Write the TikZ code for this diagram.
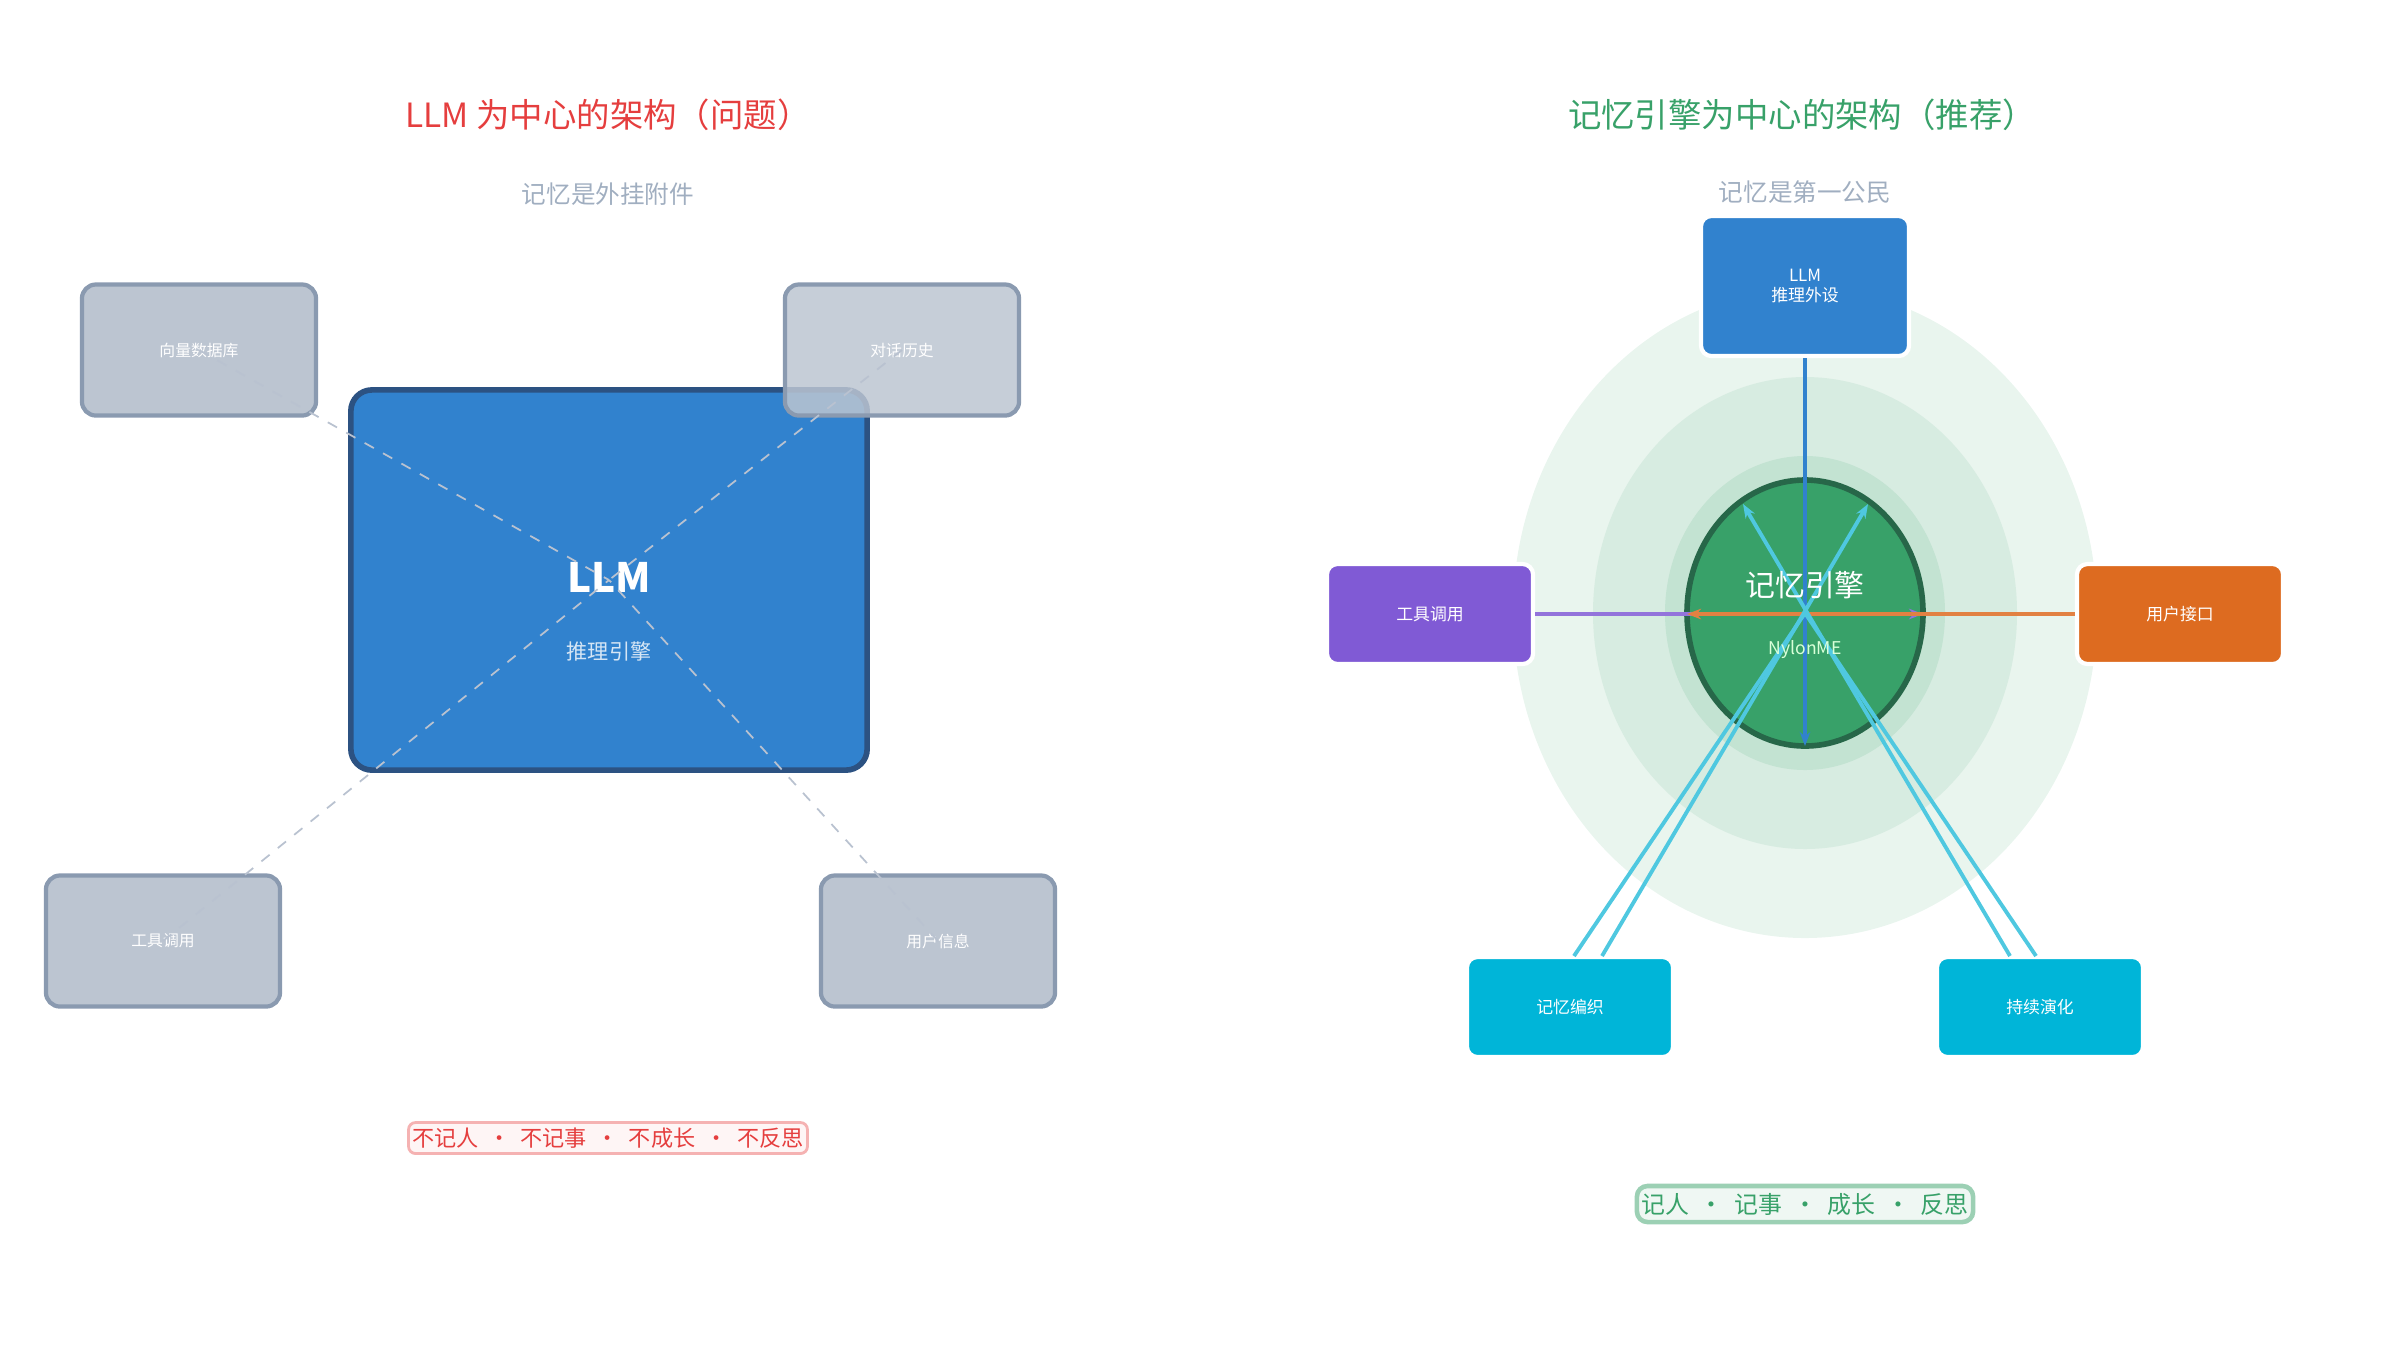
\documentclass[tikz,border=0pt]{standalone}
\usepackage{fontspec}
\setmainfont{Noto Sans CJK SC}
\usetikzlibrary{arrows.meta}
\definecolor{llmblue}{HTML}{3182CE}
\definecolor{llmedge}{HTML}{2C5282}
\definecolor{grayfill}{HTML}{BCC5D1}
\definecolor{grayedge}{HTML}{8A9AB0}
\definecolor{subgray}{HTML}{A0AEC0}
\definecolor{warnred}{HTML}{E53E3E}
\definecolor{okgreen}{HTML}{38A169}
\definecolor{darkgreen}{HTML}{276749}
\definecolor{toolpurple}{HTML}{805AD5}
\definecolor{userorange}{HTML}{DD6B20}
\definecolor{weavecyan}{HTML}{00B5D8}
\definecolor{linecyan}{HTML}{4FC8E0}
\begin{document}
\begin{tikzpicture}[x=0.01cm, y=-0.01cm,
    side/.style={rectangle, draw=grayedge, line width=1.2pt, fill=grayfill, rounded corners=4pt,
                 minimum width=2.34cm, minimum height=1.31cm, text=white, font=\fontsize{4.5}{5}\selectfont},
    sat/.style={rectangle, draw=white, line width=1.2pt, rounded corners=3pt, text=white,
                minimum width=2.06cm, minimum height=1cm, align=center, font=\fontsize{4.8}{5.5}\selectfont},
    weak/.style={dashed, draw=grayedge!60, line width=0.5pt},
    arr/.style={-{Stealth[length=4pt]}, line width=1.1pt},
    title/.style={font=\fontsize{9.5}{11}\selectfont},
    sub/.style={text=subgray, font=\fontsize{7}{8}\selectfont},
  ]
  \useasboundingbox (0,0) rectangle (2400,1350);

  % Left: LLM at the center
  \node[title, text=warnred] (ltitle) at (608,115) {LLM 为中心的架构（问题）};
  \node[sub] (lsub) at (608,194) {记忆是外挂附件};

  \node[rectangle, draw=llmedge, line width=1.6pt, fill=llmblue, rounded corners=6pt,
        minimum width=5.16cm, minimum height=3.8cm] (llm) at (609,580) {};
  \node[text=white, font=\fontsize{11.5}{13}\bfseries\selectfont] (llmname) at (609,577) {LLM};
  \node[text=white!80!llmblue, font=\fontsize{6}{7}\selectfont] (llmrole) at (609,651) {推理引擎};

  \node[side] (vec) at (199,350) {向量数据库};
  \node[side, fill opacity=0.85, text opacity=1] (hist) at (902,350) {对话历史};
  \node[side] (ltool) at (163,941) {工具调用};
  \node[side] (info) at (938,941) {用户信息};

  \foreach \n in {vec,hist,ltool,info}
    \draw[weak] (\n.center) -- (llm.center);

  \node[draw=warnred!40, fill=warnred!5, rounded corners=2pt, line width=0.8pt, text=warnred,
        minimum width=3.91cm, minimum height=0.31cm, inner sep=1pt,
        font=\fontsize{6.3}{7}\selectfont] (lneg) at (608,1138)
    {不记人 \ • \ 不记事 \ • \ 不成长 \ • \ 不反思};

  % Right: memory engine at the center
  \node[title, text=okgreen] (rtitle) at (1802,115) {记忆引擎为中心的架构（推荐）};
  \node[sub] (rsub) at (1805,192) {记忆是第一公民};

  \fill[okgreen!11] (1805,613) ellipse [x radius=292, y radius=325];
  \fill[okgreen!20] (1805,613) ellipse [x radius=212, y radius=236];
  \fill[okgreen!30] (1805,613) ellipse [x radius=140, y radius=157];
  \draw[fill=okgreen, draw=darkgreen, line width=1.6pt] (1805,613) ellipse [x radius=118, y radius=133];
  \coordinate (core) at (1805,613);
  \coordinate (ctop) at (1805,746);
  \coordinate (cleft) at (1687,614);
  \coordinate (cright) at (1923,614);
  \coordinate (cul) at (1743,504);
  \coordinate (cur) at (1868,504);

  \node[sat, fill=llmblue, minimum width=2.08cm, minimum height=1.4cm] (perip) at (1805,286) {LLM\\推理外设};
  \node[sat, fill=toolpurple] (rtool) at (1430,614) {工具调用};
  \node[sat, fill=userorange] (uif) at (2180,614) {用户接口};
  \node[sat, fill=weavecyan] (weave) at (1570,1007) {记忆编织};
  \node[sat, fill=weavecyan] (evolve) at (2040,1007) {持续演化};
  \coordinate (wa) at (1574,956);
  \coordinate (wb) at (1602,956);
  \coordinate (ea) at (2010,956);
  \coordinate (eb) at (2036,956);

  \draw[arr, llmblue] (perip.south) -- (ctop);
  \draw[arr, toolpurple!85] (rtool.east) -- (cright);
  \draw[arr, userorange!85] (uif.west) -- (cleft);
  \draw[linecyan, line width=1.1pt] (wa) -- (core);
  \draw[arr, linecyan] (wb) -- (cur);
  \draw[linecyan, line width=1.1pt] (eb) -- (core);
  \draw[arr, linecyan] (ea) -- (cul);

  \node[text=white, font=\fontsize{8.5}{10}\selectfont] (ename) at (1805,585) {记忆引擎};
  \node[text=green!15, font=\fontsize{5}{6}\selectfont] (eid) at (1805,650) {NylonME};

  \node[draw=okgreen!50, fill=okgreen!8, rounded corners=3pt, line width=1.3pt, text=okgreen,
        minimum width=3.36cm, minimum height=0.36cm, inner sep=1pt,
        font=\fontsize{6.8}{7.5}\selectfont] (rpos) at (1805,1204)
    {记人 \ • \ 记事 \ • \ 成长 \ • \ 反思};
\end{tikzpicture}
\end{document}
